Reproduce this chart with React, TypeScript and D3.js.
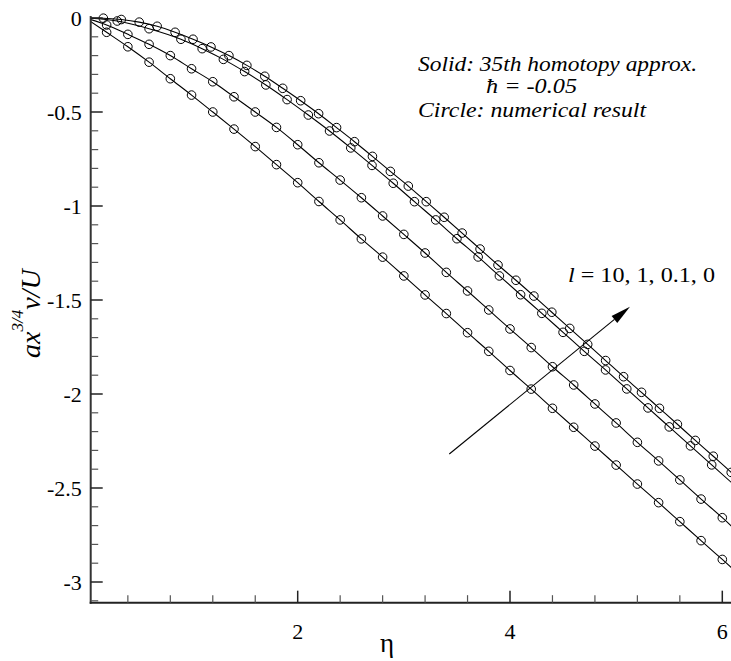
import React from "react";
import * as d3 from "d3";

// circle positions (eta) and values for each curve
const etaA = [0.2,0.4,0.6,0.8,1.0,1.2,1.4,1.6,1.8,2.0,2.2,2.4,2.6,2.8,3.0,3.2,3.4,3.6,3.8,4.0,4.2,4.4,4.6,4.8,5.0,5.2,5.4,5.6,5.8,6.0];
const valA = [-0.076,-0.153,-0.235,-0.323,-0.410,-0.500,-0.591,-0.684,-0.780,-0.876,-0.976,-1.074,-1.175,-1.272,-1.372,-1.473,-1.572,-1.674,-1.773,-1.875,-1.974,-2.076,-2.177,-2.277,-2.378,-2.479,-2.578,-2.679,-2.780,-2.880];
const etaB = [0.2,0.4,0.6,0.8,1.0,1.2,1.4,1.6,1.8,2.0,2.2,2.4,2.6,2.8,3.0,3.2,3.4,3.6,3.8,4.0,4.2,4.4,4.6,4.8,5.0,5.2,5.4,5.6,5.8,6.0];
const valB = [-0.037,-0.087,-0.140,-0.200,-0.270,-0.339,-0.419,-0.500,-0.582,-0.674,-0.770,-0.862,-0.956,-1.053,-1.151,-1.250,-1.353,-1.452,-1.553,-1.654,-1.753,-1.855,-1.952,-2.053,-2.154,-2.257,-2.356,-2.457,-2.559,-2.658];
const etaC = [0.3,0.6,0.9,1.1,1.3,1.5,1.7,1.9,2.1,2.3,2.5,2.7,2.9,3.1,3.3,3.5,3.7,3.9,4.1,4.3,4.5,4.7,4.9,5.1,5.3,5.5,5.7,5.9];
const valC = [-0.016,-0.057,-0.113,-0.163,-0.220,-0.285,-0.356,-0.434,-0.516,-0.601,-0.691,-0.784,-0.879,-0.977,-1.074,-1.174,-1.271,-1.372,-1.472,-1.571,-1.672,-1.773,-1.872,-1.973,-2.074,-2.175,-2.276,-2.377];
const etaD = [0.169,0.338,0.507,0.676,0.845,1.014,1.183,1.352,1.521,1.69,1.859,2.028,2.197,2.366,2.535,2.704,2.873,3.042,3.211,3.38,3.549,3.718,3.887,4.056,4.225,4.394,4.563,4.732,4.901,5.07,5.239,5.408,5.577,5.746,5.915,6.084];
const valD = [-0.001,-0.008,-0.022,-0.044,-0.076,-0.113,-0.154,-0.200,-0.252,-0.310,-0.374,-0.440,-0.509,-0.583,-0.658,-0.736,-0.816,-0.894,-0.977,-1.060,-1.144,-1.229,-1.314,-1.395,-1.479,-1.565,-1.651,-1.736,-1.822,-1.908,-1.991,-2.076,-2.161,-2.247,-2.331,-2.417];
// line end values at eta = 6.12 (beyond the visible edge)
const endEta = 6.12;
const endVals = [-2.94, -2.72, -2.488, -2.437];

const xMajorTicks = [2, 4, 6];
const xTickLabels = ["2", "4", "6"];
const yMajorTicks = [0, -0.5, -1, -1.5, -2, -2.5, -3];
const yTickLabels = ["0", "-0.5", "-1", "-1.5", "-2", "-2.5", "-3"];

const W = 731, H = 661;
const FONT = "Liberation Serif";

export default function App() {
  const x = d3.scaleLinear().domain([0, 6]).range([85.4, 722.3]);
  const y = d3.scaleLinear().domain([0, -3]).range([18, 582]);
  const axisLeft = x(0.05);
  const axisBottom = y(-3.11);

  const series = [
    { eta: etaA, val: valA, end: endVals[0] },
    { eta: etaB, val: valB, end: endVals[1] },
    { eta: etaC, val: valC, end: endVals[2] },
    { eta: etaD, val: valD, end: endVals[3] },
  ];

  const line = d3
    .line<[number, number]>()
    .x((d) => x(d[0]))
    .y((d) => y(d[1]))
    .curve(d3.curveMonotoneX);

  const xMinor = d3.range(1, 16).map((k) => k * 0.4).filter((v) => Math.abs(v / 2 - Math.round(v / 2)) > 1e-6);
  const yMinor = d3.range(0, 32).map((k) => -k * 0.1).filter((v) => Math.abs(v * 2 - Math.round(v * 2)) > 1e-6);

  // arrow
  const a0 = [x(3.428), y(-2.319)];
  const a1 = [x(5.13), y(-1.536)];
  const dx = a1[0] - a0[0], dy = a1[1] - a0[1];
  const len = Math.hypot(dx, dy);
  const ux = dx / len, uy = dy / len;
  const hl = 20, hw = 4.5;
  const bx = a1[0] - ux * hl, by = a1[1] - uy * hl;
  const head = `${a1[0]},${a1[1]} ${bx - uy * hw},${by + ux * hw} ${bx + uy * hw},${by - ux * hw}`;

  return (
    <svg width={W} height={H} style={{ position: "absolute", left: 0, top: 0, background: "#fff" }}>
      <defs>
        <clipPath id="plot">
          <rect x={axisLeft} y={0} width={W - axisLeft} height={axisBottom} />
        </clipPath>
      </defs>
      <rect x={0} y={0} width={W} height={H} fill="#fff" />
      <g clipPath="url(#plot)">
        {series.map((s, i) => {
          const pts: [number, number][] = [[0, 0], ...s.eta.map((e, j) => [e, s.val[j]] as [number, number]), [endEta, s.end]];
          return <path key={i} d={line(pts) || ""} fill="none" stroke="#000" strokeWidth={1.1} />;
        })}
        {series.map((s, i) =>
          s.eta.map((e, j) => (
            <circle key={`${i}-${j}`} cx={x(e)} cy={y(s.val[j])} r={4.3} fill="none" stroke="#000" strokeWidth={1} />
          ))
        )}
      </g>
      {/* axes */}
      <line x1={axisLeft} x2={axisLeft} y1={16} y2={axisBottom + 1} stroke="#333" strokeWidth={2} />
      <line x1={axisLeft - 1} x2={W} y1={axisBottom} y2={axisBottom} stroke="#222" strokeWidth={2} />
      {yMajorTicks.map((v, i) => (
        <g key={`ym${i}`}>
          <line x1={axisLeft} x2={axisLeft + 12} y1={y(v)} y2={y(v)} stroke="#222" strokeWidth={1.5} />
          <text x={axisLeft - 9} y={y(v)} dy="0.35em" textAnchor="end" fontFamily={FONT} fontSize={22}>
            {yTickLabels[i]}
          </text>
        </g>
      ))}
      {yMinor.map((v, i) => (
        <line key={`yn${i}`} x1={axisLeft} x2={axisLeft + 7.5} y1={y(v)} y2={y(v)} stroke="#555" strokeWidth={1.2} />
      ))}
      {xMajorTicks.map((v, i) => (
        <g key={`xm${i}`}>
          <line x1={x(v)} x2={x(v)} y1={axisBottom} y2={axisBottom - 12} stroke="#222" strokeWidth={1.5} />
          <text x={x(v)} y={axisBottom + 36} textAnchor="middle" fontFamily={FONT} fontSize={22}>
            {xTickLabels[i]}
          </text>
        </g>
      ))}
      {xMinor.map((v, i) => (
        <line key={`xn${i}`} x1={x(v)} x2={x(v)} y1={axisBottom} y2={axisBottom - 7.5} stroke="#555" strokeWidth={1.2} />
      ))}
      {/* axis titles */}
      <text x={387} y={652} textAnchor="middle" fontFamily={FONT} fontSize={27}>η</text>
      <text transform="translate(40,358) rotate(-90)" fontFamily={FONT} fontStyle="italic" fontSize={28}>
        <tspan>ax</tspan>
        <tspan dy={-17} fontSize={17}>3/4</tspan>
        <tspan dy={17} fontSize={28}>v/U</tspan>
      </text>
      {/* annotations */}
      <text x={418} y={71} fontFamily={FONT} fontStyle="italic" fontSize={21} textLength={279} lengthAdjust="spacingAndGlyphs">
        Solid: 35th homotopy approx.
      </text>
      <text x={486} y={93} fontFamily={FONT} fontStyle="italic" fontSize={21} textLength={91} lengthAdjust="spacingAndGlyphs">
        ħ = -0.05
      </text>
      <text x={418} y={117} fontFamily={FONT} fontStyle="italic" fontSize={21} textLength={228} lengthAdjust="spacingAndGlyphs">
        Circle: numerical result
      </text>
      <text x={568} y={282} fontFamily={FONT} fontSize={22} textLength={147} lengthAdjust="spacingAndGlyphs">
        <tspan fontStyle="italic">l</tspan> = 10, 1, 0.1, 0
      </text>
      <line x1={a0[0]} y1={a0[1]} x2={bx} y2={by} stroke="#000" strokeWidth={1.1} />
      <polygon points={head} fill="#000" />
    </svg>
  );
}
